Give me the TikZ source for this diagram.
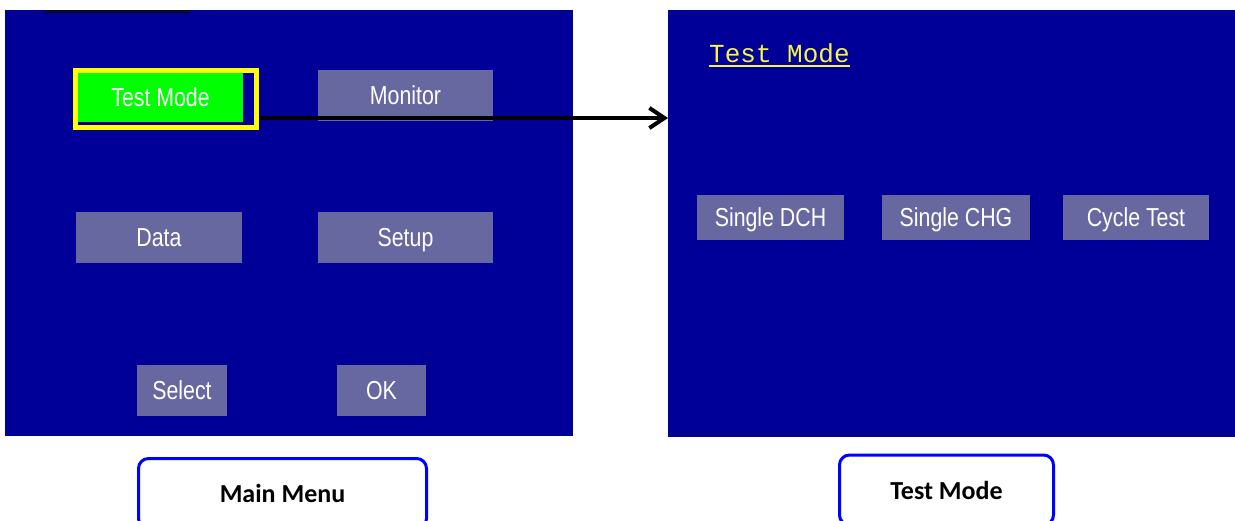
\documentclass[tikz,border=0pt]{standalone}
\usepackage{fontspec}
\setmainfont{Liberation Sans}
\newfontfamily\btnfont[FakeStretch=0.82]{Liberation Sans}
\newfontfamily\capfont{Carlito}
\setmonofont{Liberation Mono}
\usetikzlibrary{arrows.meta}
\definecolor{screenblue}{RGB}{0,0,153}
\definecolor{btngray}{RGB}{104,104,160}
\definecolor{lcdgreen}{RGB}{0,255,0}
\definecolor{lcdyellow}{RGB}{255,255,0}
\definecolor{titleyellow}{RGB}{245,245,70}
\definecolor{boxblue}{RGB}{0,0,255}
\definecolor{topbar}{RGB}{10,10,40}

\begin{document}
\begin{tikzpicture}[x=1pt,y=-1pt,
  screen/.style={fill=screenblue,inner sep=0pt,outer sep=0pt},
  btn/.style={fill=btngray,text=white,inner sep=0pt,outer sep=0pt,
    text height=18.6pt,text depth=0pt,
    font=\btnfont\fontsize{26}{30}\selectfont},
  capbox/.style={draw=boxblue,line width=3pt,rounded corners=10pt,inner sep=0pt,
    font=\capfont\bfseries\fontsize{26}{30}\selectfont}]
\useasboundingbox (0,0) rectangle (1235,520);
\node (main) [screen,minimum width=568pt,minimum height=426pt] at (289,223) {};
\node (tmscreen) [screen,minimum width=567pt,minimum height=427pt] at (951.5,223.5) {};
\draw [topbar,line width=3pt] (45,11) -- (190,11);

\node (tmbtn) [btn,fill=lcdgreen,minimum width=165pt,minimum height=50pt] at (160.5,97) {Test Mode};
\node (tmframe) [draw=lcdyellow,line width=5pt,minimum width=181pt,minimum height=57pt,inner sep=0pt] at (166,99) {};
\node (monitor) [btn,minimum width=175pt,minimum height=51pt] at (405.5,95.5) {Monitor};
\node (data) [btn,minimum width=166pt,minimum height=51pt] at (159,237.5) {Data};
\node (setup) [btn,minimum width=175pt,minimum height=51pt] at (405.5,237.5) {Setup};
\node (select) [btn,minimum width=90pt,minimum height=51pt] at (182,390.5) {Select};
\node (ok) [btn,minimum width=89pt,minimum height=51pt] at (381.5,390.5) {OK};

\node (title) [anchor=base west,inner sep=0pt,text=titleyellow,font=\ttfamily\fontsize{26}{30}\selectfont] at (709,62) {Test Mode};
\draw [titleyellow,line width=2pt] ([yshift=-3.5pt]title.base west) -- ([yshift=-3.5pt]title.base east);
\node (dch) [btn,minimum width=147pt,minimum height=45pt] at (770.5,217.5) {Single DCH};
\node (chg) [btn,minimum width=148pt,minimum height=45pt] at (956,217.5) {Single CHG};
\node (cycle) [btn,minimum width=146pt,minimum height=45pt] at (1136,217.5) {Cycle Test};

\coordinate (armstart) at ([yshift=-19pt]tmframe.east);
\draw [line width=3.5pt,-{Straight Barb[length=15pt,width=20pt,line width=4pt]}] (armstart) -- (armstart -| tmscreen.west);

\node (mainlbl) [capbox,minimum width=288pt,minimum height=70pt] at (282.5,493.5) {Main Menu};
\node (tmlbl) [capbox,minimum width=214pt,minimum height=70pt] at (946.5,490) {Test Mode};
\end{tikzpicture}
\end{document}
